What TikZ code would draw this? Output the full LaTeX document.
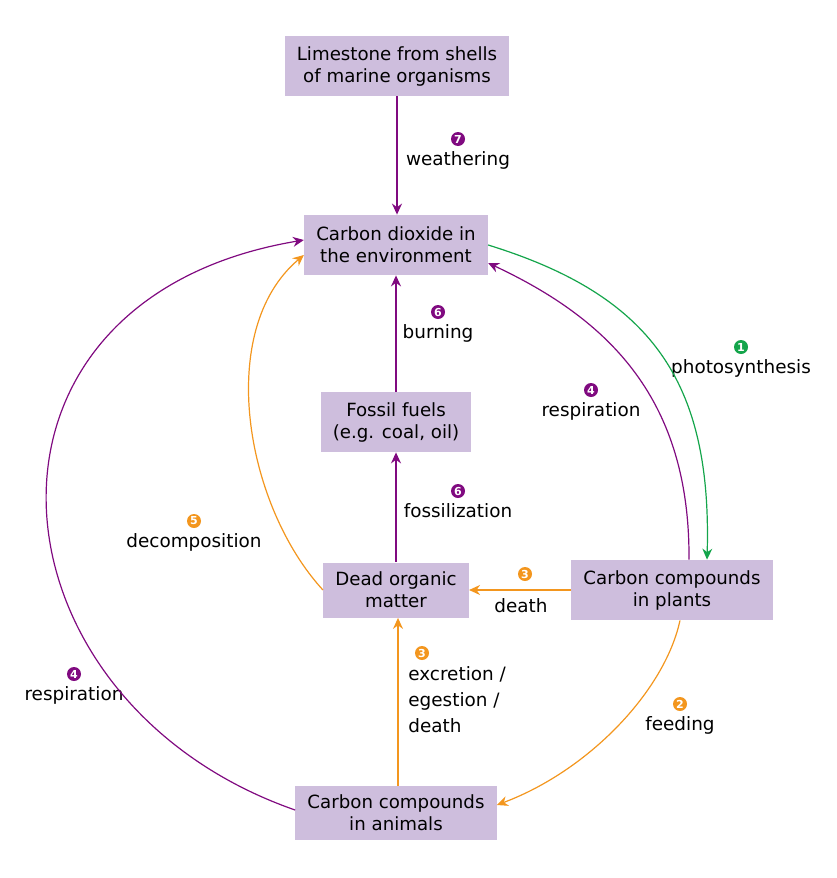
\documentclass[tikz,border=0pt]{standalone}
\usepackage{fontspec}
\setmainfont{DejaVu Sans}
\usetikzlibrary{arrows.meta,positioning}
\definecolor{boxfill}{RGB}{206,190,221}
\definecolor{cyclepurple}{RGB}{128,10,128}
\definecolor{cycleorange}{RGB}{243,150,30}
\definecolor{cyclegreen}{RGB}{20,165,75}

\begin{document}
\begin{tikzpicture}[x=0.5pt,y=0.5pt]
	\tikzset{box/.style={fill=boxfill,align=center,inner xsep=6pt,minimum height=30pt,font=\fontsize{9.1}{11}\selectfont}}
	\tikzset{badge/.style={circle,fill=#1,text=white,inner sep=0pt,minimum size=7pt,font=\fontsize{5.5}{5.5}\selectfont\bfseries}}
	\tikzset{lbl/.style={inner sep=1pt,text height=6.8pt,text depth=2pt,font=\fontsize{9.2}{11}\selectfont}}
	\tikzset{flow/.style={draw=#1,line width=0.7pt,-{Stealth[length=5.5pt,width=5pt]}}}
	\tikzset{curve/.style={flow=#1,line width=0.6pt}}
	\useasboundingbox (0,0) rectangle (836,-878);

	% boxes
	\node[box] (limestone) at (397,-66) {Limestone from shells\\of marine organisms};
	\node[box] (co2) at (396,-245) {Carbon dioxide in\\the environment};
	\node[box] (fossil) at (396,-422) {Fossil fuels\\(e.g. coal, oil)};
	\node[box,minimum height=27.5pt] (dead) at (396,-590) {Dead organic\\matter};
	\node[box] (plants) at (672,-590) {Carbon compounds\\in plants};
	\node[box,minimum height=27pt] (animals) at (396,-813) {Carbon compounds\\in animals};

	% labels
	\node[badge=cyclepurple] (b7) at (458,-139) {7};
	\node[lbl,below=1.5pt of b7] (weathering) {weathering};
	\node[badge=cyclegreen] (b1) at (741,-347) {1};
	\node[lbl,below=1.5pt of b1] (photo) {photosynthesis};
	\node[badge=cyclepurple] (b4r) at (591,-390) {4};
	\node[lbl,below=1.5pt of b4r] (respr) {respiration};
	\node[badge=cyclepurple] (b6a) at (438,-312) {6};
	\node[lbl,below=1.5pt of b6a] (burning) {burning};
	\node[badge=cyclepurple] (b6b) at (458,-491) {6};
	\node[lbl,below=1.5pt of b6b] (fossilization) {fossilization};
	\node[badge=cycleorange] (b3a) at (525,-574) {3};
	\node[lbl] (death) at (521,-608) {death};
	\node[badge=cycleorange] (b3b) at (422,-653) {3};
	\node[lbl,align=left,anchor=north west,text height=,text depth=,font=\fontsize{9.2}{13}\selectfont] (excretion) at (406,-664) {excretion /\\egestion /\\death};
	\node[badge=cycleorange] (b2) at (680,-704) {2};
	\node[lbl,below=1.5pt of b2] (feeding) {feeding};
	\node[badge=cycleorange] (b5) at (194,-521) {5};
	\node[lbl,below=1.5pt of b5] (decomp) {decomposition};
	\node[badge=cyclepurple] (b4l) at (74,-674) {4};
	\node[lbl,below=1.5pt of b4l] (respl) {respiration};

	% straight flows
	\draw[flow=cyclepurple] (limestone) -- (limestone |- co2.north);
	\draw[flow=cyclepurple] (fossil) -- (co2);
	\draw[flow=cyclepurple] (dead) -- (fossil);
	\draw[flow=cycleorange] ([xshift=1pt]animals.north) -- ([xshift=1pt]dead.south);
	\draw[flow=cycleorange] (plants) -- (dead);

	% curved flows
	\draw[curve=cyclegreen] (co2.east) .. controls (650,-295) and (712,-380) .. ([xshift=17.5pt]plants.north);
	\draw[curve=cyclepurple] ([xshift=8.5pt]plants.north) .. controls (690,-400) and (610,-320) .. ([yshift=-9pt]co2.east);
	\draw[curve=cycleorange] ([xshift=4pt]plants.south) .. controls (665,-690) and (590,-770) .. ([yshift=4pt]animals.east);
	\draw[curve=cycleorange] (dead.west) .. controls (245,-505) and (215,-330) .. ([yshift=-5pt]co2.west);
	\draw[curve=cyclepurple] ([yshift=1.5pt]animals.west) .. controls (-20,-700) and (-54,-300) .. ([yshift=2.5pt]co2.west);
\end{tikzpicture}
\end{document}
